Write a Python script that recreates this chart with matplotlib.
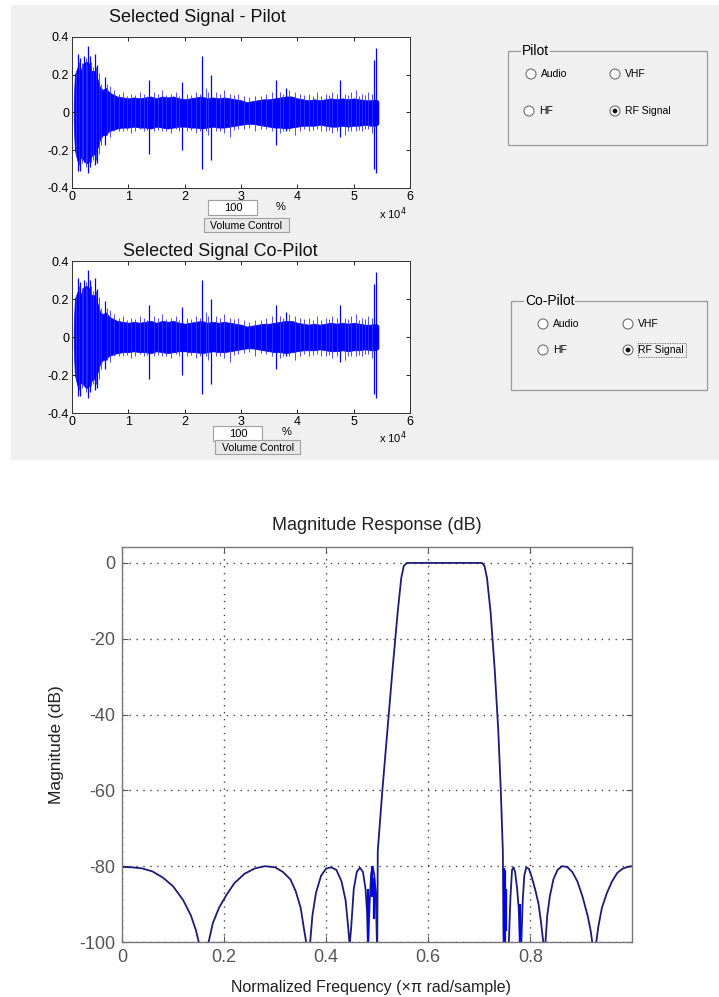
import numpy as np
import matplotlib
matplotlib.use('Agg')
import matplotlib.pyplot as plt
from matplotlib.patches import Rectangle, Circle

plt.rcParams['font.family'] = ['Liberation Sans', 'DejaVu Sans']

# ---- recorded signal (same trace shown for pilot and co-pilot), x in units of 1e4 samples
env_x = [0.03, 0.05, 0.1, 0.15, 0.2, 0.25, 0.3, 0.35, 0.4, 0.45, 0.5, 0.55, 0.6, 0.65, 0.7,
         0.8, 0.9, 1.0, 1.1, 1.2, 1.3, 1.4, 1.5, 1.6, 1.7, 1.8, 1.9, 2.0, 2.1, 2.2, 2.3, 2.4,
         2.5, 2.6, 2.7, 2.8, 2.9, 3.0, 3.1, 3.2, 3.3, 3.4, 3.5, 3.6, 3.7, 3.8, 3.9, 4.0, 4.1,
         4.2, 4.3, 4.4, 4.5, 4.6, 4.7, 4.8, 4.9, 5.0, 5.1, 5.2, 5.3, 5.4, 5.44]
env_hi = [0.05, 0.2, 0.24, 0.22, 0.26, 0.27, 0.26, 0.22, 0.22, 0.18, 0.13, 0.12, 0.13, 0.11, 0.1,
          0.085, 0.08, 0.075, 0.08, 0.075, 0.08, 0.085, 0.075, 0.085, 0.08, 0.085, 0.075, 0.07,
          0.075, 0.08, 0.085, 0.075, 0.08, 0.075, 0.08, 0.075, 0.07, 0.065, 0.055, 0.06, 0.065,
          0.07, 0.07, 0.075, 0.08, 0.085, 0.085, 0.075, 0.07, 0.065, 0.07, 0.065, 0.07, 0.075,
          0.07, 0.075, 0.07, 0.075, 0.07, 0.065, 0.065, 0.07, 0.06]
env_lo = [-0.05, -0.2, -0.26, -0.24, -0.25, -0.27, -0.26, -0.23, -0.22, -0.19, -0.14, -0.12,
          -0.12, -0.1, -0.095, -0.085, -0.08, -0.08, -0.075, -0.08, -0.08, -0.085, -0.075, -0.08,
          -0.085, -0.08, -0.075, -0.075, -0.08, -0.08, -0.085, -0.08, -0.075, -0.08, -0.08,
          -0.075, -0.07, -0.065, -0.06, -0.06, -0.065, -0.07, -0.075, -0.08, -0.08, -0.085,
          -0.08, -0.075, -0.07, -0.07, -0.07, -0.065, -0.07, -0.075, -0.075, -0.07, -0.075,
          -0.07, -0.07, -0.065, -0.07, -0.07, -0.06]

# tall isolated strokes: position, top, bottom
spk_x = [0.1, 0.14, 0.22, 0.28, 0.32, 0.4, 0.45, 0.58, 1.37, 1.95, 2.31, 2.46, 3.63, 3.79,
         4.75, 5.36, 5.39]
spk_hi = [0.31, 0.29, 0.3, 0.35, 0.3, 0.31, 0.25, 0.19, 0.17, 0.16, 0.3, 0.2, 0.17, 0.13,
          0.17, 0.28, 0.34]
spk_lo = [-0.31, -0.31, -0.26, -0.32, -0.29, -0.28, -0.27, -0.17, -0.22, -0.2, -0.3, -0.25,
          -0.17, -0.1, -0.13, -0.3, -0.32]

# small strokes that make the ragged fringe of the band
mnr_x = [0.07, 0.12, 0.17, 0.19, 0.24, 0.26, 0.34, 0.37, 0.43, 0.48, 0.52, 0.62, 0.68, 0.75,
         0.84, 0.9, 0.97, 1.05, 1.12, 1.2, 1.27, 1.33, 1.45, 1.52, 1.6, 1.67, 1.75, 1.85,
         1.9, 2.05, 2.12, 2.2, 2.27, 2.38, 2.42, 2.55, 2.62, 2.7, 2.8, 2.87, 2.95, 3.05, 3.15,
         3.25, 3.35, 3.45, 3.55, 3.7, 3.75, 3.85, 3.95, 4.05, 4.12, 4.2, 4.28, 4.35, 4.42,
         4.5, 4.57, 4.62, 4.7, 4.85, 4.9, 4.95, 5.05, 5.1, 5.15, 5.2, 5.25, 5.32]
mnr_hi = [0.22, 0.27, 0.26, 0.25, 0.29, 0.25, 0.27, 0.24, 0.24, 0.21, 0.15, 0.15, 0.14, 0.12,
          0.1, 0.11, 0.09, 0.1, 0.095, 0.11, 0.1, 0.09, 0.11, 0.1, 0.12, 0.095, 0.1, 0.11,
          0.09, 0.1, 0.095, 0.11, 0.1, 0.13, 0.11, 0.11, 0.1, 0.12, 0.1, 0.095, 0.1, 0.09,
          0.08, 0.09, 0.09, 0.1, 0.11, 0.11, 0.1, 0.12, 0.11, 0.1, 0.095, 0.1, 0.09, 0.11,
          0.09, 0.1, 0.095, 0.11, 0.1, 0.1, 0.095, 0.11, 0.12, 0.09, 0.1, 0.095, 0.11, 0.1]
mnr_lo = [-0.23, -0.28, -0.27, -0.24, -0.29, -0.26, -0.26, -0.25, -0.25, -0.22, -0.17, -0.12,
          -0.13, -0.1, -0.1, -0.1, -0.095, -0.11, -0.1, -0.09, -0.1, -0.095, -0.1, -0.095,
          -0.1, -0.1, -0.11, -0.09, -0.1, -0.1, -0.095, -0.11, -0.1, -0.1, -0.12, -0.1, -0.1,
          -0.11, -0.13, -0.095, -0.09, -0.085, -0.08, -0.1, -0.085, -0.09, -0.1, -0.11,
          -0.1, -0.1, -0.12, -0.1, -0.09, -0.1, -0.095, -0.09, -0.1, -0.1, -0.095, -0.11,
          -0.1, -0.12, -0.1, -0.1, -0.1, -0.095, -0.1, -0.09, -0.09, -0.11]

sig_xticks = [0, 1, 2, 3, 4, 5, 6]
sig_yticks = [-0.4, -0.2, 0, 0.2, 0.4]
sig_ylabels = ['-0.4', '-0.2', '0', '0.2', '0.4']

# ---- band-pass filter magnitude response
resp_f = [0.0, 0.02, 0.04, 0.06, 0.08, 0.10, 0.12, 0.135, 0.145, 0.152, 0.168, 0.178, 0.19,
          0.205, 0.22, 0.24, 0.26, 0.28, 0.30, 0.315, 0.33, 0.34, 0.35, 0.357, 0.362, 0.368,
          0.373, 0.38, 0.39, 0.40, 0.41, 0.42, 0.43, 0.438, 0.443, 0.446, 0.449, 0.454, 0.46,
          0.466, 0.472, 0.477, 0.48, 0.482, 0.485, 0.488, 0.491, 0.494, 0.497, 0.4995,
          0.500, 0.501, 0.51, 0.52, 0.53, 0.54, 0.547, 0.552, 0.558, 0.60, 0.65, 0.70, 0.705,
          0.71, 0.715, 0.722, 0.73, 0.737, 0.742, 0.746, 0.7475, 0.7575, 0.761, 0.764, 0.767,
          0.770, 0.774, 0.777, 0.780, 0.782, 0.785, 0.788, 0.792, 0.797, 0.803, 0.81, 0.816,
          0.821, 0.826, 0.829, 0.833, 0.838, 0.845, 0.853, 0.862, 0.872, 0.882, 0.892, 0.902,
          0.912, 0.918, 0.922, 0.928, 0.933, 0.94, 0.95, 0.96, 0.97, 0.98, 0.99, 0.999]
resp_db = [-80.2, -80.3, -80.6, -81.4, -83, -85.3, -89, -93, -97, -101, -101, -95, -91,
           -87.5, -84.5, -82, -80.6, -80, -80.3, -81.5, -83.5, -86.5, -91, -97, -101, -101,
           -93, -87, -82.5, -80.6, -80.3, -81, -84, -89, -96, -101, -96, -86, -81.5,
           -80.4, -81.5, -86, -92, -101, -90, -82, -80.2, -82, -87, -101,
           -101, -76, -60, -44, -28, -13, -4, -0.8, 0, 0, 0, 0, 0,
           -0.8, -4, -13, -28, -44, -60, -76, -101, -101, -88, -81, -80.3,
           -81.5, -86, -91, -101, -101, -89, -82.5, -80.3, -80.7, -83, -86.5, -90,
           -95, -101, -101, -93, -88, -83.5, -81, -80, -80.2, -81.5, -84, -88,
           -93, -97, -101, -101, -96, -91, -87, -84, -81.8, -80.7, -80.2, -80]

# brighter blue strokes inside the transition edges
blu_f = [0.481, 0.4905, 0.493, 0.749, 0.7505, 0.752, 0.7795, 0.7805]
blu_hi = [-86, -80, -83, -80.5, -81, -86, -90, -92]
blu_lo = [-100, -88, -94, -99, -100, -97, -100, -100]

resp_xticks = [0, 0.2, 0.4, 0.6, 0.8]
resp_yticks = [0, -20, -40, -60, -80, -100]

W, H = 719, 997
fig = plt.figure(figsize=(W / 100, H / 100), dpi=100)
fig.patch.set_facecolor('white')

# pixel space overlay for the GUI parts
gui = fig.add_axes([0, 0, 1, 1], zorder=0)
gui.set_xlim(0, W)
gui.set_ylim(H, 0)
gui.axis('off')
gui.add_patch(Rectangle((11, 5), W - 11, 455, facecolor='#f0f0f0', edgecolor='none'))


def ax_rect(l, t, r, b):
    return [l / W, 1 - b / H, (r - l) / W, (b - t) / H]


def signal_axes(rect, title, tx, ty):
    ax = fig.add_axes(rect, zorder=2)
    ax.fill_between(np.array(env_x) * 1e4, env_lo, env_hi, color='#0000ff', lw=0.5)
    ax.vlines(np.array(mnr_x) * 1e4, mnr_lo, mnr_hi, color='#3333ff', lw=0.6)
    ax.vlines(np.array(spk_x) * 1e4, spk_lo, spk_hi, color='#0000ff', lw=0.9)
    ax.set_xlim(0, 6e4)
    ax.set_ylim(-0.4, 0.4)
    ax.set_xticks(np.array(sig_xticks) * 1e4)
    ax.set_xticklabels([str(t) for t in sig_xticks])
    ax.set_yticks(sig_yticks)
    ax.set_yticklabels(sig_ylabels)
    ax.tick_params(direction='in', length=3, width=0.6, top=True, right=True,
                   labelsize=9, pad=2, colors='black')
    for s in ax.spines.values():
        s.set_color('#333333')
        s.set_linewidth(0.7)
    gui.text(tx, ty, title, ha='center', va='center', fontsize=13, color='#111111')
    return ax


signal_axes(ax_rect(72, 37, 410, 188), 'Selected Signal - Pilot', 197, 18)
signal_axes(ax_rect(72, 261, 410, 413), 'Selected Signal Co-Pilot', 220, 251)

# volume controls and exponent labels
for (bx, by, px, py, vx, vy, ex, ey) in [(208, 200, 281, 207, 204, 218, 393, 214),
                                         (213, 426, 287, 432, 215, 440, 393, 438)]:
    gui.add_patch(Rectangle((bx, by), 49, 15, facecolor='white', edgecolor='#a0a0a0', lw=0.8))
    gui.text(bx + 25, by + 8, '100', ha='center', va='center', fontsize=8)
    gui.text(px, py, '%', ha='center', va='center', fontsize=8)
    gui.add_patch(Rectangle((vx, vy), 85, 14, facecolor='#e8e8e8', edgecolor='#a0a0a0', lw=0.8))
    gui.text(vx + 42.5, vy + 7.5, 'Volume Control', ha='center', va='center', fontsize=7.6)
    gui.text(ex, ey, r'x 10$^4$', ha='center', va='center', fontsize=8)


def radio_panel(l, t, r, b, title, items, focus=None):
    gui.add_patch(Rectangle((l, t), r - l, b - t, facecolor='none', edgecolor='#9a9a9a', lw=0.9))
    gui.text(l + 14, t, title, ha='left', va='center', fontsize=10,
             bbox=dict(facecolor='#f0f0f0', edgecolor='none', pad=0.5))
    for (cx, cy, lab, on) in items:
        gui.add_patch(Circle((cx, cy), 5, facecolor='white', edgecolor='#707070', lw=0.8))
        if on:
            gui.add_patch(Circle((cx, cy), 2.4, facecolor='#111111', edgecolor='none'))
        gui.text(cx + 10, cy, lab, ha='left', va='center', fontsize=7.5)
    if focus is not None:
        fx, fy, fw, fh = focus
        gui.add_patch(Rectangle((fx, fy), fw, fh, facecolor='none', edgecolor='#555555',
                                lw=0.6, linestyle=(0, (1, 1))))


radio_panel(508, 51, 707, 145, 'Pilot',
            [(531, 74, 'Audio', False), (615, 74, 'VHF', False),
             (529, 111, 'HF', False), (615, 111, 'RF Signal', True)])
radio_panel(511, 301, 707, 390, 'Co-Pilot',
            [(543, 324, 'Audio', False), (628, 324, 'VHF', False),
             (543, 350, 'HF', False), (628, 350, 'RF Signal', True)],
            focus=(638, 343, 48, 14))

# ---- magnitude response
ax3 = fig.add_axes(ax_rect(122, 547, 632, 942), zorder=2)
ax3.plot(resp_f, resp_db, color='#1c1c78', lw=1.3)
ax3.vlines(blu_f, blu_lo, blu_hi, color='#0000ff', lw=1.6)
ax3.set_xlim(0, 0.999)
ax3.set_ylim(-100, 4.2)
ax3.set_xticks(resp_xticks)
ax3.set_xticklabels(['0', '0.2', '0.4', '0.6', '0.8'])
ax3.set_yticks(resp_yticks)
ax3.set_yticklabels(['0', '-20', '-40', '-60', '-80', '-100'])
ax3.grid(True, color='#444444', linestyle=(0, (1, 4)), lw=1.0)
ax3.tick_params(direction='in', length=4, width=0.8, top=True, right=True,
                labelsize=13, colors='#555555', pad=5)
for s in ax3.spines.values():
    s.set_color('#777777')
    s.set_linewidth(1.0)
gui.text(377, 525, 'Magnitude Response (dB)', ha='center', va='center', fontsize=13,
         color='#222222')
gui.text(371, 987, u'Normalized Frequency (\u00d7\u03c0 rad/sample)', ha='center',
         va='center', fontsize=11.5, color='#222222')
gui.text(57, 745, 'Magnitude (dB)', ha='center', va='center', fontsize=12.5, rotation=90,
         color='#222222')

fig.savefig('out.png', dpi=100)
